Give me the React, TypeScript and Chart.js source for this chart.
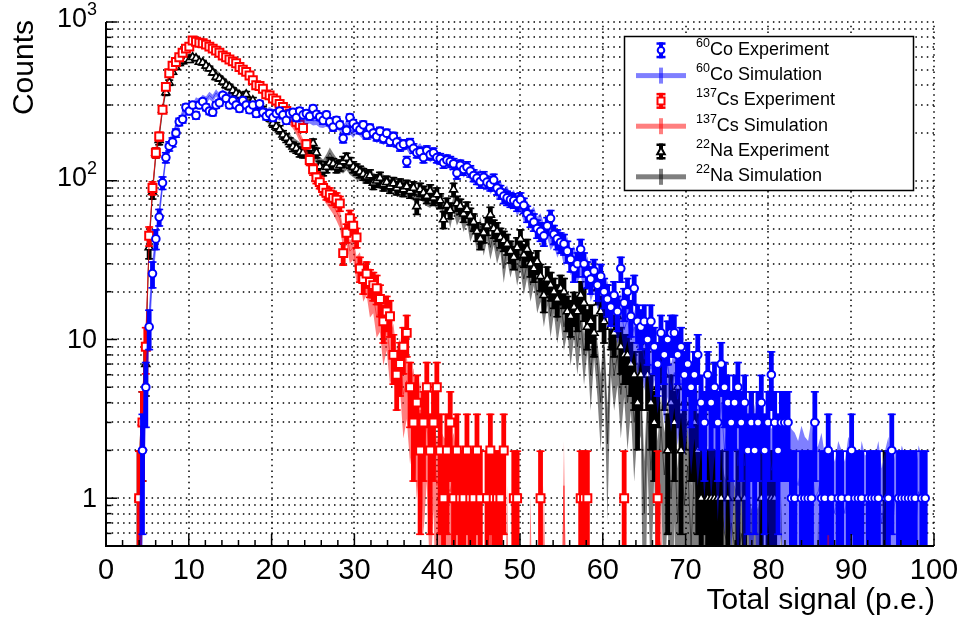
import React, { useEffect, useRef } from "react";
import { Chart, registerables } from "chart.js";

Chart.register(...registerables);

const FONT = "'Liberation Sans', Arial, Helvetica, sans-serif";

// Binning of the histograms (bin centres = X_START + i * BIN_WIDTH)
const X_START = 4.0;
const BIN_WIDTH = 0.404;
const X_MIN = 0;
const X_MAX = 100;
const Y_MIN = 0.5;
const Y_MAX = 1000;
const SIM_ERR_SCALE = 1;
const BELOW_AXIS = 0.05;

const X_TICK_VALUES = [0, 10, 20, 30, 40, 50, 60, 70, 80, 90, 100];
const X_TICK_LABELS = ["0", "10", "20", "30", "40", "50", "60", "70", "80", "90", "100"];
const Y_TICK_VALUES = [1, 10, 100, 1000];
const Y_TICK_BASES = ["1", "10", "10", "10"];
const Y_TICK_EXPS = ["", "", "2", "3"];

const X_TITLE = "Total signal (p.e.)";
const Y_TITLE = "Counts";

// 60Co
const co60Experiment = [
  0, 2, 5, 12, 26, 43, 59, 97, 140, 165,
  175, 200, 235, 244, 290, 275, 300, 258, 300, 315,
  290, 275, 270, 300, 310, 345, 330, 300, 320, 300,
  285, 320, 300, 280, 300, 265, 305, 270, 255, 265,
  250, 265, 275, 260, 240, 265, 270, 250, 275, 260,
  265, 255, 285, 262, 253, 240, 260, 235, 218, 240,
  225, 185, 208, 250, 230, 218, 210, 225, 195, 215,
  200, 190, 205, 185, 199, 177, 190, 175, 165, 170,
  132, 173, 160, 150, 152, 140, 155, 146, 150, 140,
  138, 130, 135, 132, 128, 112, 125, 118, 122, 115,
  108, 104, 99, 105, 98, 95, 101, 90, 85, 80,
  78, 76, 75, 72, 76, 70, 62, 58, 55, 50,
  48, 45, 52, 58, 46, 43, 41, 40, 36, 32,
  28, 30, 37, 30, 26, 24, 27, 22, 25, 20,
  18, 16, 19, 15, 28, 17, 20, 14, 21, 13,
  12, 13, 10, 13, 9, 7, 11, 8, 10, 11,
  11, 8, 9, 6, 7, 5, 6, 8, 4, 3,
  6, 4, 5, 3, 7, 5, 4, 3, 4, 5,
  3, 4, 2, 3, 2, 3, 4, 2, 3, 6,
  3, 2, 3, 3, 3, 1, 1, 0, 1, 1,
  1, 1, 3, 0, 1, 1, 2, 1, 0, 1,
  1, 0, 1, 2, 1, 1, 1, 0, 1, 1,
  1, 1, 0, 0, 1, 2, 0, 1, 1, 1,
  1, 1, 1, 0, 1, 1, 0, 0,
];
const co60Simulation = [
  0.3, 1.8, 5, 13, 27, 42, 62, 95, 140, 170,
  188, 220, 232, 265, 275, 305, 288, 318, 310, 330,
  322, 345, 330, 358, 335, 360, 338, 350, 325, 330,
  312, 318, 298, 305, 285, 292, 278, 282, 268, 275,
  268, 262, 255, 265, 258, 250, 255, 248, 245, 250,
  242, 245, 238, 240, 232, 230, 235, 225, 222, 228,
  218, 205, 226, 212, 200, 214, 205, 196, 208, 194,
  199, 186, 192, 181, 188, 176, 182, 170, 178, 166,
  170, 158, 166, 152, 160, 148, 154, 142, 149, 136,
  140, 130, 137, 126, 132, 120, 127, 115, 122, 110,
  114, 102, 108, 96, 103, 92, 97, 86, 91, 80,
  84, 74, 79, 68, 73, 63, 67, 57, 61, 52,
  55, 47, 51, 43, 46, 39, 43, 35, 38, 31,
  33, 28, 31, 25, 28, 22, 25, 20, 22, 17,
  19, 15, 17, 13, 15.5, 11.5, 13.5, 10, 12, 9,
  10.5, 7.5, 9.5, 6.5, 8.5, 5.8, 7.6, 5.2, 7, 4.8,
  6.2, 4.2, 5.6, 3.8, 5, 3.2, 4.5, 2.9, 4, 2.6,
  4.2, 2.6, 3.8, 2.2, 4, 2, 3.2, 1.8, 3, 1.6,
  2.8, 1.6, 2.6, 1.3, 2.4, 1.4, 3, 1.2, 2.2, 1.5,
  1.8, 1.7, 2, 1.6, 1.9, 1.5, 1.4, 1.2, 1.6, 1.3,
  1.2, 1.8, 1, 1.1, 1.4, 0.9, 1.3, 1, 0.8, 1.2,
  1, 0.8, 1.3, 1.1, 0.9, 0.7, 1.2, 0.9, 1, 0.8,
  0.9, 1.2, 0.7, 1, 1.3, 0.6, 1, 0.8, 1.1, 0.9,
  1, 0.8, 0.6, 1.1, 0.9, 0.5, 0, 0,
];

// 137Cs
const cs137Experiment = [
  1, 3, 9, 45, 90, 150, 190, 280, 390, 475,
  530, 560, 600, 640, 680, 700, 765, 750, 740, 735,
  720, 700, 680, 660, 640, 615, 600, 580, 565, 550,
  520, 500, 485, 460, 430, 400, 395, 380, 350, 345,
  330, 320, 305, 292, 275, 265, 250, 235, 225, 215,
  170, 135, 118, 105, 98, 90, 84, 82, 78, 76,
  72, 35, 47, 58, 52, 44, 28, 24, 26, 23,
  22, 21, 18, 13, 15, 14, 8, 6, 7, 9,
  11, 5, 3, 4, 2, 3, 5, 2, 3, 5,
  2, 1, 2, 3, 1, 2, 1, 1, 2, 1,
  1, 2, 1, 0, 1, 2, 1, 1, 1, 2,
  0, 0, 1, 1, 0, 0, 0, 0, 0, 0,
  1, 0, 0, 0, 0, 0, 0, 0, 0, 0,
  0, 0, 1, 1, 1, 0, 0, 0, 0, 0,
  0, 0, 0, 0, 0, 1, 0, 0, 0, 0,
  0, 0, 0, 0, 0, 1, 0, 0, 0, 0,
  0, 0, 0, 0, 0, 0, 0, 0, 0, 0,
  0, 0, 0, 0, 0, 0, 0, 0, 0, 0,
  0, 0, 0, 0, 0, 0, 0, 0, 0, 0,
  0, 0, 0, 0, 0, 0, 0, 0, 0, 0,
  0, 0, 0, 0, 0, 0, 1, 0, 0, 0,
  0, 0, 0, 0, 0, 0, 0, 0, 0, 0,
  0, 0, 0, 0, 0, 0, 0, 0, 0, 0,
  0, 0, 0, 0, 0, 0, 0, 0,
];
const cs137Simulation = [
  1, 3, 10, 42, 88, 150, 200, 290, 390, 470,
  540, 590, 640, 680, 710, 730, 740, 745, 740, 725,
  710, 690, 670, 650, 630, 610, 590, 570, 550, 530,
  510, 490, 470, 450, 425, 400, 380, 360, 345, 330,
  315, 300, 285, 270, 255, 240, 228, 210, 190, 170,
  150, 128, 110, 100, 92, 86, 80, 75, 70, 64,
  58, 44, 46, 36, 38, 28, 30, 22, 24, 18,
  19, 14, 15, 10, 12, 8, 9.5, 6, 7.5, 4.5,
  5.5, 3.5, 4.5, 2.6, 3.6, 2, 3, 1.5, 2.4, 1.2,
  1.5, 1.3, 1.2, 1.1, 1.4, 0.9, 1, 0.8, 1.2, 0.7,
  0.7, 0.9, 0.6, 0, 0.8, 0.6, 0, 0.7, 0.5, 0,
  0.5, 0, 0, 0.6, 0, 0, 0, 0.4, 0, 0,
  0, 0.5, 0, 0, 0, 0, 0, 1.2, 0, 0,
  0, 0, 0.5, 0.6, 0, 0, 0, 0, 0, 0,
  0, 0, 0, 0, 0, 0.8, 0, 0, 0, 0,
  0, 0, 0, 0, 0, 0.6, 0.5, 0, 0, 0,
  0, 0, 0, 0, 0, 0, 0, 0, 0, 0,
  0, 0, 0, 0, 0, 0, 0, 0, 0, 0,
  0, 0, 0, 0, 0, 0, 0, 0, 0, 0,
  0, 0, 0, 0, 0, 0, 0, 0, 0, 0,
  0, 0, 0, 0, 0, 0, 0, 0, 0, 0,
  0, 0, 0, 0, 0, 0, 0, 0, 0, 0,
  0, 0, 0, 0, 0, 0, 0, 0, 0, 0,
  0, 0, 0, 0, 0, 0, 0, 0,
];

// 22Na
const na22Experiment = [
  1, 3, 7, 38, 85, 150, 180, 280, 360, 415,
  485, 520, 550, 565, 580, 575, 600, 590, 560, 555,
  530, 510, 480, 450, 440, 420, 400, 390, 370, 355,
  345, 335, 350, 300, 320, 295, 300, 280, 265, 250,
  230, 220, 210, 195, 186, 175, 164, 160, 152, 150,
  164, 160, 172, 150, 123, 117, 122, 130, 128, 122,
  125, 132, 139, 130, 122, 118, 114, 110, 106, 108,
  97, 100, 104, 95, 98, 92, 96, 90, 94, 88,
  92, 86, 90, 69, 88, 84, 80, 86, 78, 82,
  75, 57, 70, 65, 88, 72, 69, 62, 66, 60,
  55, 48, 43, 47, 52, 61, 50, 48, 44, 42,
  40, 36, 33, 38, 43, 34, 37, 30, 28, 31,
  25, 19, 24, 22, 20, 18, 21, 20, 15, 14,
  16, 15, 19, 17, 12, 13, 11, 21, 15, 13,
  18, 12, 11, 14, 9, 8, 8, 7, 6, 4,
  6, 9, 6, 4, 3, 5, 8, 6, 2, 4,
  3, 5, 2, 4, 7, 3, 3, 2, 1, 2,
  1, 1, 1, 1, 1, 0, 1, 0, 0, 1,
  0, 1, 0, 3, 0, 0, 1, 0, 1, 1,
  1, 0, 0, 0, 0, 0, 0, 0, 0, 0,
  0, 0, 0, 0, 0, 0, 0, 0, 0, 0,
  0, 0, 0, 0, 0, 0, 0, 0, 0, 0,
  0, 0, 0, 1, 0, 0, 0, 0, 0, 0,
  0, 0, 0, 0, 0, 0, 0, 0,
];
const na22Simulation = [
  1, 3, 9, 40, 85, 145, 190, 280, 370, 430,
  480, 530, 560, 590, 600, 610, 605, 590, 575, 560,
  540, 520, 500, 480, 460, 440, 420, 400, 385, 370,
  355, 345, 335, 320, 305, 290, 278, 265, 250, 240,
  228, 218, 208, 198, 190, 182, 175, 168, 162, 158,
  165, 160, 150, 140, 130, 125, 135, 150, 138, 128,
  125, 122, 128, 120, 116, 112, 110, 115, 108, 104,
  102, 100, 98, 100, 95, 92, 96, 90, 88, 92,
  90, 86, 84, 80, 85, 82, 78, 76, 80, 74,
  74, 62, 70, 58, 72, 60, 66, 55, 62, 48,
  54, 42, 52, 40, 49, 38, 46, 36, 42, 28,
  38, 30, 36, 27, 33, 24, 30, 22, 27, 19,
  22, 16, 21, 14, 19, 13, 17, 12, 15, 10,
  14, 9, 13, 8, 12, 6, 11, 7, 4, 9,
  2.2, 9, 6, 8, 4.5, 7, 4, 6, 3, 5,
  4.5, 0.8, 3.5, 1.5, 3.2, 1.2, 2.8, 1.4, 2.4, 1,
  2.2, 0.7, 1.9, 0.9, 1.6, 0.5, 1.5, 0.8, 1.2, 0.4,
  0.9, 1, 0.8, 0.7, 0.9, 0.6, 0.5, 0.7, 0.5, 0.4,
  0.6, 0.4, 0.5, 0.3, 0.4, 0.3, 0.5, 0, 0.4, 0.3,
  0.3, 0, 0.4, 0, 0, 0.3, 0, 0, 0, 0,
  0, 0, 0, 0.3, 0, 0, 0, 0, 0, 0,
  0, 0, 0, 0, 0, 0, 0, 0, 0, 0,
  0, 0, 0, 0.5, 0, 0, 0, 0, 0, 0,
  0, 0, 0, 0, 0, 0, 0, 0,
];

const SERIES = [
  { iso: "60", name: "Co", exp: co60Experiment, sim: co60Simulation, color: "#0000ff", simColor: "rgba(0,0,255,0.5)", marker: "circle", radius: 3.8, bw: 2 },
  { iso: "137", name: "Cs", exp: cs137Experiment, sim: cs137Simulation, color: "#ff0000", simColor: "rgba(255,0,0,0.5)", marker: "rect", radius: 5.6, bw: 2 },
  { iso: "22", name: "Na", exp: na22Experiment, sim: na22Simulation, color: "#000000", simColor: "rgba(0,0,0,0.5)", marker: "triangle", radius: 4.6, bw: 1.6 },
];

const binX = (i: number) => X_START + i * BIN_WIDTH;

function expPoints(values: number[]) {
  return values.map((v, i) => ({ x: binX(i), y: v > 0 ? v : null }));
}
function simPoints(values: number[], sign: number) {
  return values.map((v, i) => {
    const e = Math.sqrt(v * SIM_ERR_SCALE);
    return { x: binX(i), y: Math.max(v + sign * e, BELOW_AXIS) };
  });
}

function buildDatasets() {
  const out: any[] = [];
  for (const s of SERIES) {
    out.push({
      label: s.iso + s.name + " Experiment",
      data: expPoints(s.exp),
      showLine: false,
      borderWidth: 0,
      borderColor: s.color,
      pointStyle: s.marker,
      pointRadius: s.radius,
      pointBorderWidth: s.bw,
      pointBorderColor: s.color,
      pointBackgroundColor: "#ffffff",
      errorBars: true,
      fill: false,
    });
    out.push({
      label: s.iso + s.name + " Simulation",
      data: simPoints(s.sim, 0),
      borderWidth: 1,
      borderColor: s.simColor,
      pointRadius: 0,
      fill: false,
    });
    out.push({
      label: "upper",
      data: simPoints(s.sim, 1),
      borderWidth: 0,
      borderColor: "rgba(0,0,0,0)",
      backgroundColor: s.simColor,
      pointRadius: 0,
      fill: "+1",
    });
    out.push({
      label: "lower",
      data: simPoints(s.sim, -1),
      borderWidth: 0,
      borderColor: "rgba(0,0,0,0)",
      pointRadius: 0,
      fill: false,
    });
  }
  return out;
}

const errorBarPlugin = {
  id: "errorBars",
  beforeDatasetDraw(chart: any, args: any) {
    const ds = chart.data.datasets[args.index];
    if (!ds || !ds.errorBars) return;
    const { ctx, chartArea: a } = chart;
    const xs = chart.scales.x;
    const ys = chart.scales.y;
    ctx.save();
    ctx.beginPath();
    ctx.rect(a.left, a.top, a.right - a.left, a.bottom - a.top);
    ctx.clip();
    ctx.fillStyle = ds.borderColor;
    for (const p of ds.data) {
      if (p.y == null) continue;
      const e = Math.sqrt(p.y);
      const px = xs.getPixelForValue(p.x);
      const top = ys.getPixelForValue(p.y + e);
      const low = p.y - e;
      const bot = low > Y_MIN ? ys.getPixelForValue(low) : a.bottom + 3;
      ctx.fillRect(px - 2.4, top, 4.8, bot - top);
      ctx.fillRect(px - 4, top, 8, 1.6);
      if (low > Y_MIN) ctx.fillRect(px - 4, bot - 1.6, 8, 1.6);
    }
    ctx.restore();
  },
};

function yGridValues() {
  const vals: number[] = [];
  for (let d = -1; d <= 3; d++) {
    for (let m = 1; m <= 9; m++) {
      const v = m * Math.pow(10, d);
      if (v > Y_MIN + 1e-9 && v <= Y_MAX + 1e-9) vals.push(v);
    }
  }
  return vals;
}

const gridPlugin = {
  id: "rootGrid",
  beforeDatasetsDraw(chart: any) {
    const { ctx, chartArea: a } = chart;
    const xs = chart.scales.x;
    const ys = chart.scales.y;
    ctx.save();
    ctx.strokeStyle = "#000";
    ctx.lineWidth = 1.5;
    ctx.setLineDash([1.5, 4.2]);
    for (let v = 10; v <= X_MAX; v += 10) {
      const px = Math.round(xs.getPixelForValue(v));
      ctx.beginPath();
      ctx.moveTo(px, a.bottom);
      ctx.lineTo(px, a.top);
      ctx.stroke();
    }
    for (const v of yGridValues()) {
      const py = Math.round(ys.getPixelForValue(v));
      ctx.beginPath();
      ctx.moveTo(a.left, py);
      ctx.lineTo(a.right, py);
      ctx.stroke();
    }
    ctx.restore();
  },
};

const axesPlugin = {
  id: "rootAxes",
  afterDatasetsDraw(chart: any) {
    const { ctx, chartArea: a } = chart;
    const xs = chart.scales.x;
    const ys = chart.scales.y;
    ctx.save();
    ctx.strokeStyle = "#000";
    ctx.fillStyle = "#000";
    ctx.lineWidth = 2;
    ctx.setLineDash([]);
    ctx.beginPath();
    ctx.moveTo(a.left, a.top);
    ctx.lineTo(a.left, a.bottom);
    ctx.lineTo(a.right, a.bottom);
    ctx.stroke();

    ctx.lineWidth = 1.5;
    // x ticks
    for (let v = X_MIN; v <= X_MAX + 1e-9; v += 2) {
      const px = xs.getPixelForValue(v);
      const major = Math.abs(v % 10) < 1e-9;
      ctx.beginPath();
      ctx.moveTo(px, a.bottom);
      ctx.lineTo(px, a.bottom - (major ? 12 : 6));
      ctx.stroke();
    }
    // y ticks
    for (const v of yGridValues()) {
      const py = ys.getPixelForValue(v);
      const major = Math.abs(Math.log10(v) - Math.round(Math.log10(v))) < 1e-9;
      ctx.beginPath();
      ctx.moveTo(a.left, py);
      ctx.lineTo(a.left + (major ? 11 : 5.5), py);
      ctx.stroke();
    }

    // x tick labels
    ctx.font = `29px ${FONT}`;
    ctx.textAlign = "center";
    ctx.textBaseline = "alphabetic";
    X_TICK_VALUES.forEach((v, i) => {
      ctx.fillText(X_TICK_LABELS[i], xs.getPixelForValue(v), a.bottom + 33);
    });

    // y tick labels
    const right = a.left - 9;
    Y_TICK_VALUES.forEach((v, i) => {
      const py = ys.getPixelForValue(v);
      const exp = Y_TICK_EXPS[i];
      ctx.textAlign = "left";
      if (exp) {
        ctx.font = `18px ${FONT}`;
        const we = ctx.measureText(exp).width;
        ctx.font = `27px ${FONT}`;
        const wb = ctx.measureText(Y_TICK_BASES[i]).width;
        const x0 = right - we - wb;
        ctx.fillText(Y_TICK_BASES[i], x0, py + 5);
        ctx.font = `18px ${FONT}`;
        ctx.fillText(exp, x0 + wb, py - 7);
      } else {
        ctx.font = `27px ${FONT}`;
        const wb = ctx.measureText(Y_TICK_BASES[i]).width;
        ctx.fillText(Y_TICK_BASES[i], right - wb, py + 9);
      }
    });

    // axis titles
    ctx.font = `30px ${FONT}`;
    ctx.textAlign = "right";
    ctx.textBaseline = "alphabetic";
    ctx.fillText(X_TITLE, a.right + 1, 609);
    ctx.save();
    ctx.translate(33, 20);
    ctx.rotate(-Math.PI / 2);
    ctx.textAlign = "right";
    ctx.fillText(Y_TITLE, 0, 0);
    ctx.restore();
    ctx.restore();
  },
};

function drawMarker(ctx: CanvasRenderingContext2D, kind: string, x: number, y: number, color: string) {
  ctx.save();
  ctx.fillStyle = "#fff";
  ctx.strokeStyle = color;
  ctx.lineWidth = 2;
  ctx.beginPath();
  if (kind === "circle") {
    ctx.arc(x, y, 3.3, 0, Math.PI * 2);
  } else if (kind === "rect") {
    ctx.rect(x - 3.5, y - 3.5, 7, 7);
  } else {
    ctx.moveTo(x, y - 4.2);
    ctx.lineTo(x + 3.8, y + 2.8);
    ctx.lineTo(x - 3.8, y + 2.8);
    ctx.closePath();
  }
  ctx.fill();
  ctx.stroke();
  ctx.restore();
}

const legendPlugin = {
  id: "rootLegend",
  afterDraw(chart: any) {
    const { ctx } = chart;
    const bx = 624, by = 36, bw = 289, bh = 154;
    ctx.save();
    ctx.fillStyle = "#fff";
    ctx.fillRect(bx, by, bw, bh);
    ctx.strokeStyle = "#000";
    ctx.lineWidth = 1.5;
    ctx.setLineDash([]);
    ctx.strokeRect(bx + 0.5, by + 0.5, bw, bh);
    const sx = 661;
    let row = 0;
    for (const s of SERIES) {
      for (const kind of ["Experiment", "Simulation"]) {
        const cy = 50.3 + row * 25.3;
        if (kind === "Experiment") {
          ctx.fillStyle = s.color;
          ctx.fillRect(sx - 2, cy - 8, 4, 16);
          ctx.fillRect(sx - 4.5, cy - 8, 9, 2.5);
          ctx.fillRect(sx - 4.5, cy + 5.5, 9, 2.5);
          drawMarker(ctx, s.marker, sx, cy, s.color);
        } else {
          ctx.fillStyle = s.simColor;
          ctx.fillRect(sx - 25, cy - 2.5, 50, 5);
          ctx.fillRect(sx - 2, cy - 8, 4, 16);
        }
        ctx.fillStyle = "#000";
        ctx.textAlign = "left";
        ctx.textBaseline = "alphabetic";
        ctx.font = `12.5px ${FONT}`;
        const tx = 696;
        ctx.fillText(s.iso, tx, cy - 3.5);
        const w = ctx.measureText(s.iso).width;
        ctx.font = `18px ${FONT}`;
        ctx.fillText(`${s.name} ${kind}`, tx + w, cy + 4.5);
        row++;
      }
    }
    ctx.restore();
  },
};

export default function App() {
  const ref = useRef<HTMLCanvasElement | null>(null);
  useEffect(() => {
    const canvas = ref.current;
    if (!canvas) return;
    const datasets = buildDatasets();
    const chart = new Chart(canvas, {
      type: "line",
      data: { datasets },
      options: {
        animation: false,
        responsive: false,
        maintainAspectRatio: false,
        events: [],
        layout: { padding: { left: 106, right: 32, top: 22, bottom: 72 } },
        scales: {
          x: { type: "linear", min: X_MIN, max: X_MAX, display: false, bounds: "data" },
          y: { type: "logarithmic", min: Y_MIN, max: Y_MAX, display: false, bounds: "data" },
        },
        elements: { line: { tension: 0 } },
        plugins: {
          legend: { display: false },
          tooltip: { enabled: false },
          colors: { enabled: false },
        },
      } as any,
      plugins: [gridPlugin, errorBarPlugin, axesPlugin, legendPlugin] as any,
    });
    return () => chart.destroy();
  }, []);
  return (
    <div style={{ position: "fixed", left: 0, top: 0, width: 966, height: 618, background: "#fff" }}>
      <canvas ref={ref} width={966} height={618} style={{ display: "block", width: 966, height: 618 }} />
    </div>
  );
}
